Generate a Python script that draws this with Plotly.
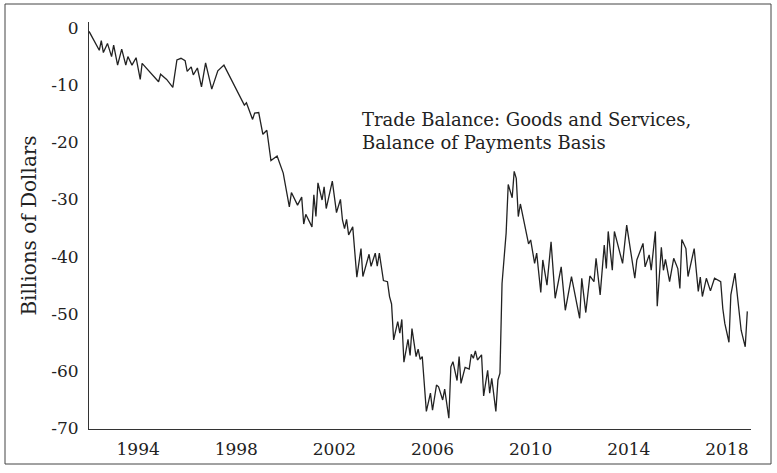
"""US trade balance line chart, monthly, 1992-2018."""

import plotly.graph_objects as go

# month index counted from 1992-01, and the balance read at that month (billions of dollars)
MONTH_INDEX = [
    0, 5, 6, 7, 9, 11, 12, 14, 16, 18, 19, 21, 23, 25, 26, 30, 34, 35, 38, 41,
    43, 45, 47, 48, 50, 51, 53, 55, 57, 60, 63, 66, 76, 77, 80, 81, 83, 85, 87, 89,
    92, 95, 98, 99, 102, 104, 105, 106, 109, 110, 111, 112, 114, 115, 116, 119, 121, 123, 124, 125,
    126, 127, 129, 131, 133, 134, 137, 138, 140, 141, 142, 144, 146, 147, 148, 149, 151, 152, 153, 154,
    156, 157, 158, 160, 161, 162, 163, 165, 167, 168, 170, 171, 173, 174, 176, 177, 178, 180, 181, 182,
    184, 186, 187, 188, 189, 190, 192, 193, 195, 196, 197, 199, 200, 201, 202, 204, 205, 207, 208, 209,
    210, 211, 215, 216, 218, 219, 221, 222, 224, 226, 228, 231, 233, 236, 240, 241, 243, 245, 247, 248,
    250, 252, 253, 254, 256, 257, 261, 263, 267, 268, 271, 272, 274, 275, 277, 278, 280, 281, 282, 284,
    286, 288, 289, 290, 292, 293, 296, 298, 299, 300, 302, 304, 306, 309, 310, 311, 313, 314, 316, 319,
    321, 322,
]
BALANCE = [
    -0.6, -3.9, -2.2, -4.3, -2.7, -5.0, -3.0, -6.5, -3.7, -6.5, -5.0, -6.5, -5.2, -9.0, -6.2, -7.8, -9.4, -8.1, -9.0, -10.4,
    -5.6, -5.3, -5.7, -7.6, -6.8, -8.2, -7.0, -10.3, -6.1, -10.7, -7.5, -6.5, -13.5, -13.1, -16.0, -14.9, -14.8, -18.6, -17.9, -23.2,
    -22.4, -25.4, -31.3, -28.8, -31.0, -29.6, -34.3, -32.6, -34.8, -29.2, -33.0, -27.1, -30.1, -27.8, -31.6, -26.8, -32.3, -30.0, -33.6, -35.1,
    -33.5, -36.2, -34.8, -43.6, -38.6, -43.5, -39.6, -41.7, -39.4, -41.7, -39.4, -44.2, -44.4, -47.0, -48.3, -54.6, -51.4, -53.4, -51.0, -58.5,
    -54.5, -57.3, -52.6, -57.5, -56.2, -58.0, -57.5, -67.1, -63.9, -66.9, -62.5, -62.8, -65.1, -63.2, -68.3, -59.3, -58.4, -61.7, -57.5, -62.2,
    -59.4, -59.7, -57.1, -57.8, -56.5, -58.1, -57.2, -64.4, -59.9, -63.9, -61.3, -67.1, -61.6, -60.4, -44.7, -35.9, -27.4, -29.7, -25.1, -26.3,
    -33.0, -30.8, -37.8, -37.1, -41.2, -39.4, -46.3, -40.6, -45.0, -37.4, -47.3, -41.8, -49.4, -43.5, -50.8, -43.8, -49.8, -43.4, -44.4, -40.3,
    -46.7, -38.0, -42.1, -35.6, -42.4, -35.6, -41.2, -34.5, -43.8, -40.6, -37.7, -41.8, -39.7, -42.4, -35.6, -48.7, -38.4, -42.4, -40.5, -44.4,
    -40.3, -42.1, -45.6, -37.0, -38.6, -43.5, -38.6, -46.1, -43.6, -47.0, -43.8, -46.0, -43.8, -44.4, -49.1, -51.7, -55.0, -46.7, -42.9, -52.9,
    -55.8, -49.6,
]
Y_TICKS = [0, -10, -20, -30, -40, -50, -60, -70]
Y_TICK_TEXT = ["0", "-10", "-20", "-30", "-40", "-50", "-60", "-70"]

DATES = [f"{1992 + m // 12}-{m % 12 + 1:02d}-01" for m in MONTH_INDEX]

FONT = "DejaVu Serif"
INK = "#222222"

# plot area in pixels: x 89..751, y 22..429
W, H = 777, 473
L, R, T, B = 89, 751, 22, 429


def px_x(p: float) -> float:
    return (p - L) / (R - L)


def px_y(p: float) -> float:
    return (B - p) / (B - T)


fig = go.Figure()
fig.add_trace(
    go.Scatter(
        x=DATES,
        y=BALANCE,
        mode="lines",
        line={"color": INK, "width": 1.3},
        showlegend=False,
    )
)

fig.update_layout(
    width=W,
    height=H,
    margin={"l": L, "r": W - R, "t": T, "b": H - B},
    paper_bgcolor="white",
    plot_bgcolor="white",
    font={"family": FONT, "size": 17, "color": INK},
    xaxis={
        "type": "date",
        "range": ["1991-12-31", "2018-12-26"],
        "tick0": "1994-01-01",
        "dtick": "M48",
        "tickformat": "%Y",
        "showgrid": False,
        "zeroline": False,
        "showline": True,
        "linecolor": "#333333",
        "linewidth": 1,
        "ticks": "",
        "ticklabelstandoff": 5,
        "automargin": False,
    },
    yaxis={
        "range": [-70.18, 1.05],
        "tickmode": "array",
        "tickvals": Y_TICKS,
        "ticktext": Y_TICK_TEXT,
        "showgrid": False,
        "zeroline": False,
        "showline": True,
        "linecolor": "#333333",
        "linewidth": 1,
        "ticks": "",
        "ticklabelstandoff": 6,
        "automargin": False,
        "title": {"text": "Billions of Dollars", "standoff": 9},
    },
    annotations=[
        {
            "text": "Trade Balance: Goods and Services,<br>Balance of Payments Basis",
            "xref": "paper",
            "yref": "paper",
            "x": px_x(360),
            "y": px_y(131),
            "xanchor": "left",
            "yanchor": "middle",
            "align": "left",
            "showarrow": False,
            "font": {"family": FONT, "size": 18, "color": INK},
        }
    ],
    shapes=[
        {
            "type": "rect",
            "xref": "paper",
            "yref": "paper",
            "x0": px_x(5),
            "x1": px_x(771),
            "y0": px_y(464),
            "y1": px_y(4),
            "line": {"color": "#444444", "width": 1},
            "fillcolor": "rgba(0,0,0,0)",
            "layer": "below",
        }
    ],
)

# the page's default body margin would push the figure 8px down and right
fig.write_html(
    "out.html",
    config={"displayModeBar": False},
    post_script="document.body.style.margin = '0';",
)
